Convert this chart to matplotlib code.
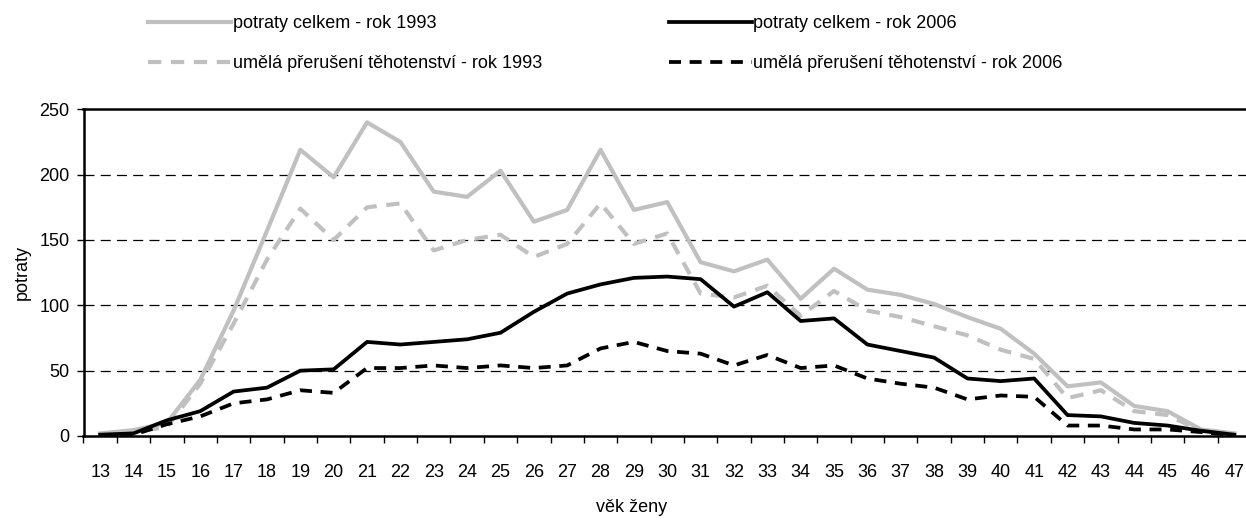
import matplotlib
matplotlib.use('Agg')
from matplotlib import pyplot as plt
import numpy as np

plt.rcParams['font.family'] = ['Liberation Sans', 'DejaVu Sans']

ages = list(range(13, 48))

total_1993 = [2, 4.5, 10, 43, 96, 157, 219, 198, 240, 225, 187, 183, 203, 164, 173,
              219, 173, 179, 133, 126, 135, 105, 128, 112, 108, 101, 91, 82, 63, 38,
              41, 23, 19, 5, 2]
induced_1993 = [1, 3, 7, 40, 86, 135, 174, 150, 175, 178, 142, 150, 154, 137, 147,
                178, 147, 155, 109, 106, 115, 92, 111, 96, 91, 84, 77, 66, 59, 29,
                35, 19, 16, 4, 1]
total_2006 = [1, 2, 12, 19, 34, 37, 50, 51, 72, 70, 72, 74, 79, 95, 109,
              116, 121, 122, 120, 99, 110, 88, 90, 70, 65, 60, 44, 42, 44, 16,
              15, 10, 8, 4, 1]
induced_2006 = [0.5, 1, 9, 15, 25, 28, 35, 33, 52, 52, 54, 52, 54, 52, 54,
                67, 72, 65, 63, 54, 62, 52, 54, 44, 40, 37, 28, 31, 30, 8,
                8, 5, 5, 3, 0.5]

label_total_1993 = 'potraty celkem - rok 1993'
label_induced_1993 = 'umělá přerušení těhotenství - rok 1993'
label_total_2006 = 'potraty celkem - rok 2006'
label_induced_2006 = 'umělá přerušení těhotenství - rok 2006'

gray = '#c0c0c0'
fs = 13

fig = plt.figure(figsize=(12.46, 5.21), dpi=100)
ax = fig.add_axes([83.5 / 1246, 85 / 521, (1251 - 83.5) / 1246, 326.7 / 521])

h1, = ax.plot(ages, total_1993, color=gray, lw=3.0)
h2, = ax.plot(ages, induced_1993, color=gray, lw=3.0, dashes=(3.2, 2.3))
h3, = ax.plot(ages, total_2006, color='black', lw=2.7)
h4, = ax.plot(ages, induced_2006, color='black', lw=2.7, dashes=(3.2, 2.3))

ax.set_xlim(12.5, 47.5)
ax.set_ylim(0, 250)
ax.set_yticks([0, 50, 100, 150, 200, 250])
for y in [50, 100, 150, 200]:
    ax.axhline(y, color='black', lw=0.9, dashes=(8, 5), zorder=0)

ax.set_xticks(ages)
ax.set_xticks(np.arange(12.5, 48, 1), minor=True)
ax.tick_params(axis='x', which='major', length=0, pad=20, labelsize=fs)
ax.tick_params(axis='x', which='minor', length=5, width=1, direction='out')
ax.tick_params(axis='y', length=5, width=1, direction='out', pad=5, labelsize=fs)
for s in ax.spines.values():
    s.set_linewidth(1.8)

ax.set_ylabel('potraty', fontsize=fs, labelpad=6)
fig.text(632 / 1246, 1 - 508 / 521, 'věk ženy', fontsize=fs, ha='center', va='center')

fig.legend([h1, h2, h3, h4],
           [label_total_1993, label_induced_1993, label_total_2006, label_induced_2006],
           ncol=2, loc='upper left',
           bbox_to_anchor=(148 / 1246, 1 - 15 / 521), frameon=False,
           fontsize=fs, handlelength=4.6, handletextpad=0.1,
           columnspacing=7.0, labelspacing=1.3, borderpad=0, borderaxespad=0)

fig.savefig('out.png', dpi=100)
